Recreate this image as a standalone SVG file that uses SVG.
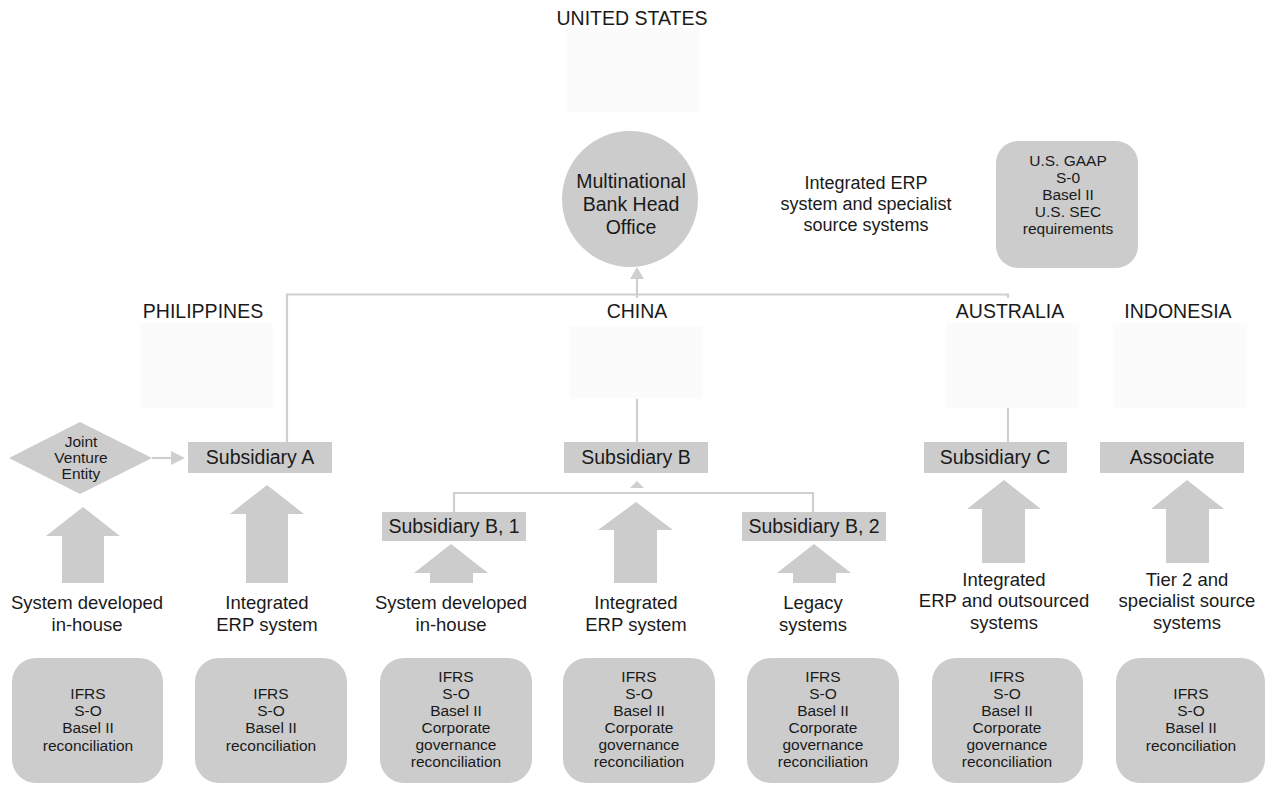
<svg xmlns="http://www.w3.org/2000/svg" width="1265" height="785" viewBox="0 0 1265 785">
<defs>
<style>
text{font-family:"Liberation Sans",Arial,sans-serif;fill:#1a1a1a;text-anchor:middle}
.c{font-size:19.5px}
.n{font-size:19.5px}
.l{font-size:18.5px}
.h{font-size:18px}
.b{font-size:15.5px}
.d{font-size:15.5px}
.flag{fill:#fbfbfb}
.mask{fill:#ffffff}
.box{fill:#cccccc}
.conn{fill:none;stroke:#cfcfcf;stroke-width:2.2}
.blk{fill:#cccccc}
</style>
</defs>
<rect width="1265" height="785" fill="#ffffff"/>

<g id="connectors">
<path class="conn" d="M287,443 V294.5 H1008 V443"/>
<line class="conn" x1="637" y1="443" x2="637" y2="294"/>
<line x1="637" y1="294" x2="637" y2="272" stroke="#cfcfcf" stroke-width="2.2"/>
<path d="M630,279 L637,267 L644,279 Z" fill="#cfcfcf"/>
<line x1="152" y1="458" x2="176" y2="458" stroke="#cfcfcf" stroke-width="2.2"/>
<path d="M171,451 L185,458 L171,465 Z" fill="#cfcfcf"/>
<path class="conn" d="M454,512 V493 H813 V512"/>
<path d="M630,488 L637,481 L644,488 Z" fill="#cfcfcf"/>
</g>

<g id="flags">
<rect class="mask" x="570" y="298" width="133" height="28"/>
<rect class="mask" x="946" y="298" width="133" height="25"/>
<rect class="flag" x="567" y="28" width="133" height="84"/>
<rect class="flag" x="140" y="323" width="133" height="85"/>
<rect class="flag" x="570" y="326" width="133" height="73"/>
<rect class="flag" x="946" y="323" width="133" height="85"/>
<rect class="flag" x="1113" y="323" width="134" height="85"/>
</g>

<g id="country-labels">
<text class="c" x="632" y="25">UNITED STATES</text>
<text class="c" x="203" y="318">PHILIPPINES</text>
<text class="c" x="637" y="318">CHINA</text>
<text class="c" x="1010" y="318">AUSTRALIA</text>
<text class="c" x="1178" y="318">INDONESIA</text>
</g>

<g id="head-office">
<circle class="box" cx="630" cy="199" r="68"/>
<text class="n" x="631" y="188">Multinational</text>
<text class="n" x="631" y="211">Bank Head</text>
<text class="n" x="631" y="234">Office</text>
</g>

<g id="head-office-systems">
<text class="h" x="866" y="189">Integrated ERP</text>
<text class="h" x="866" y="210">system and specialist</text>
<text class="h" x="866" y="231">source systems</text>
</g>

<g id="us-requirements">
<rect class="box" x="996" y="141" width="142" height="127" rx="22"/>
<text class="b" x="1068" y="166">U.S. GAAP</text>
<text class="b" x="1068" y="183">S-0</text>
<text class="b" x="1068" y="200">Basel II</text>
<text class="b" x="1068" y="217">U.S. SEC</text>
<text class="b" x="1068" y="234">requirements</text>
</g>

<g id="joint-venture">
<polygon class="box" points="9,458 80,422 152,458 80,494"/>
<text class="d" x="81" y="447">Joint</text>
<text class="d" x="81" y="463">Venture</text>
<text class="d" x="81" y="479">Entity</text>
</g>

<g id="subsidiary-a">
<rect class="box" x="188" y="442" width="144" height="31"/>
<text class="n" x="260" y="464">Subsidiary A</text>
</g>

<g id="subsidiary-b">
<rect class="box" x="564" y="442" width="144" height="31"/>
<text class="n" x="636" y="464">Subsidiary B</text>
</g>

<g id="subsidiary-b1">
<rect class="box" x="382" y="512" width="144" height="29"/>
<text class="n" x="454" y="533">Subsidiary B, 1</text>
</g>

<g id="subsidiary-b2">
<rect class="box" x="742" y="512" width="144" height="29"/>
<text class="n" x="814" y="533">Subsidiary B, 2</text>
</g>

<g id="subsidiary-c">
<rect class="box" x="924" y="442" width="143" height="31"/>
<text class="n" x="995" y="464">Subsidiary C</text>
</g>

<g id="associate">
<rect class="box" x="1100" y="442" width="144" height="31"/>
<text class="n" x="1172" y="464">Associate</text>
</g>

<g id="source-arrows">
<polygon class="blk" points="83,507 120,536 104,536 104,583 62,583 62,536 46,536"/>
<polygon class="blk" points="267,485 304,514 288,514 288,583 246,583 246,514 230,514"/>
<polygon class="blk" points="451,544 488,573 473,573 473,583 430,583 430,573 414,573"/>
<polygon class="blk" points="636,502 673,530 657,530 657,583 614,583 614,530 598,530"/>
<polygon class="blk" points="814,544 851,573 836,573 836,583 793,583 793,573 777,573"/>
<polygon class="blk" points="1004,480 1041,509 1025,509 1025,563 982,563 982,509 967,509"/>
<polygon class="blk" points="1187,480 1224,509 1209,509 1209,563 1166,563 1166,509 1151,509"/>
</g>

<g id="source-labels">
<text class="l" x="87" y="609">System developed</text>
<text class="l" x="87" y="631">in-house</text>
<text class="l" x="267" y="609">Integrated</text>
<text class="l" x="267" y="631">ERP system</text>
<text class="l" x="451" y="609">System developed</text>
<text class="l" x="451" y="631">in-house</text>
<text class="l" x="636" y="609">Integrated</text>
<text class="l" x="636" y="631">ERP system</text>
<text class="l" x="813" y="609">Legacy</text>
<text class="l" x="813" y="631">systems</text>
<text class="l" x="1004" y="586">Integrated</text>
<text class="l" x="1004" y="607">ERP and outsourced</text>
<text class="l" x="1004" y="629">systems</text>
<text class="l" x="1187" y="586">Tier 2 and</text>
<text class="l" x="1187" y="607">specialist source</text>
<text class="l" x="1187" y="629">systems</text>
</g>

<g id="req-1">
<rect class="box" x="12" y="658" width="151" height="125" rx="24"/>
<text class="b" x="88" y="699">IFRS</text>
<text class="b" x="88" y="716">S-O</text>
<text class="b" x="88" y="733">Basel II</text>
<text class="b" x="88" y="751">reconciliation</text>
</g>
<g id="req-2">
<rect class="box" x="195" y="658" width="152" height="125" rx="24"/>
<text class="b" x="271" y="699">IFRS</text>
<text class="b" x="271" y="716">S-O</text>
<text class="b" x="271" y="733">Basel II</text>
<text class="b" x="271" y="751">reconciliation</text>
</g>
<g id="req-3">
<rect class="box" x="380" y="658" width="152" height="125" rx="24"/>
<text class="b" x="456" y="682">IFRS</text>
<text class="b" x="456" y="699">S-O</text>
<text class="b" x="456" y="716">Basel II</text>
<text class="b" x="456" y="733">Corporate</text>
<text class="b" x="456" y="750">governance</text>
<text class="b" x="456" y="767">reconciliation</text>
</g>
<g id="req-4">
<rect class="box" x="563" y="658" width="152" height="125" rx="24"/>
<text class="b" x="639" y="682">IFRS</text>
<text class="b" x="639" y="699">S-O</text>
<text class="b" x="639" y="716">Basel II</text>
<text class="b" x="639" y="733">Corporate</text>
<text class="b" x="639" y="750">governance</text>
<text class="b" x="639" y="767">reconciliation</text>
</g>
<g id="req-5">
<rect class="box" x="747" y="658" width="152" height="125" rx="24"/>
<text class="b" x="823" y="682">IFRS</text>
<text class="b" x="823" y="699">S-O</text>
<text class="b" x="823" y="716">Basel II</text>
<text class="b" x="823" y="733">Corporate</text>
<text class="b" x="823" y="750">governance</text>
<text class="b" x="823" y="767">reconciliation</text>
</g>
<g id="req-6">
<rect class="box" x="932" y="658" width="151" height="125" rx="24"/>
<text class="b" x="1007" y="682">IFRS</text>
<text class="b" x="1007" y="699">S-O</text>
<text class="b" x="1007" y="716">Basel II</text>
<text class="b" x="1007" y="733">Corporate</text>
<text class="b" x="1007" y="750">governance</text>
<text class="b" x="1007" y="767">reconciliation</text>
</g>
<g id="req-7">
<rect class="box" x="1116" y="658" width="149" height="125" rx="24"/>
<text class="b" x="1191" y="699">IFRS</text>
<text class="b" x="1191" y="716">S-O</text>
<text class="b" x="1191" y="733">Basel II</text>
<text class="b" x="1191" y="751">reconciliation</text>
</g>
</svg>
